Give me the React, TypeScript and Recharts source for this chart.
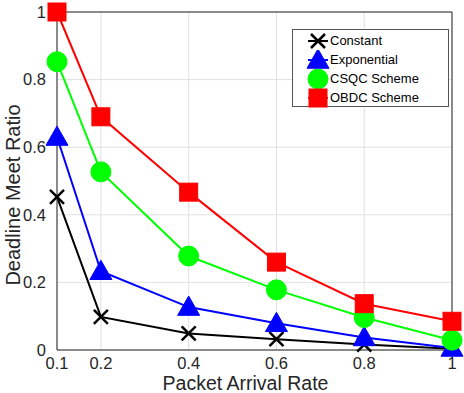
import React from "react";
import {
  LineChart,
  Line,
  XAxis,
  YAxis,
  CartesianGrid,
  ReferenceLine,
} from "recharts";

const rates = [0.1, 0.2, 0.4, 0.6, 0.8, 1];
const constantVals = [0.453, 0.098, 0.049, 0.032, 0.016, 0.004];
const exponentialVals = [0.63, 0.233, 0.127, 0.079, 0.037, 0.006];
const csqcVals = [0.853, 0.527, 0.278, 0.178, 0.096, 0.029];
const obdcVals = [1.0, 0.69, 0.467, 0.26, 0.137, 0.085];
const xTicks = [0.1, 0.2, 0.4, 0.6, 0.8, 1];
const yTicks = [0, 0.2, 0.4, 0.6, 0.8, 1];

const data = rates.map((r, i) => ({
  rate: r,
  constant: constantVals[i],
  exponential: exponentialVals[i],
  csqc: csqcVals[i],
  obdc: obdcVals[i],
}));

const FONT = "'Liberation Sans', Arial, Helvetica, sans-serif";
const AXIS = "#262626";

type Kind = "x" | "tri" | "circle" | "square";

function Marker({ kind, cx, cy, color }: { kind: Kind; cx: number; cy: number; color: string }) {
  if (kind === "x") {
    const s = 7;
    return (
      <g stroke={color} strokeWidth={2.5}>
        <line x1={cx - s} y1={cy - s} x2={cx + s} y2={cy + s} />
        <line x1={cx - s} y1={cy + s} x2={cx + s} y2={cy - s} />
      </g>
    );
  }
  if (kind === "tri") {
    const s = 11;
    return (
      <polygon
        points={`${cx},${cy - s} ${cx - s},${cy + s * 0.75} ${cx + s},${cy + s * 0.75}`}
        fill={color}
        stroke={color}
      />
    );
  }
  if (kind === "circle") {
    return <circle cx={cx} cy={cy} r={10} fill={color} stroke={color} />;
  }
  return <rect x={cx - 9} y={cy - 9} width={18} height={18} fill={color} stroke={color} />;
}

const dotFor = (kind: Kind, color: string) => (props: any) => (
  <Marker key={`${kind}-${props.index}`} kind={kind} cx={props.cx} cy={props.cy} color={color} />
);

const series: { key: string; name: string; color: string; kind: Kind }[] = [
  { key: "constant", name: "Constant", color: "#000000", kind: "x" },
  { key: "exponential", name: "Exponential", color: "#0000ff", kind: "tri" },
  { key: "csqc", name: "CSQC Scheme", color: "#00ff00", kind: "circle" },
  { key: "obdc", name: "OBDC Scheme", color: "#ff0000", kind: "square" },
];

function LegendBox() {
  return (
    <div
      style={{
        position: "absolute",
        left: 292,
        top: 29,
        border: "1px solid #555",
        background: "#fff",
        width: 157,
        height: 78,
        boxSizing: "border-box",
        padding: "1px 0 0 0",
        fontFamily: FONT,
        fontSize: 13,
        color: "#000",
      }}
    >
      {series.map((s) => (
        <div key={s.key} style={{ display: "flex", alignItems: "center", height: 19 }}>
          <svg width={36} height={20} style={{ marginLeft: 1 }}>
            <line x1={14} y1={10} x2={34} y2={10} stroke={s.color} strokeWidth={2} />
            <Marker kind={s.kind} cx={24} cy={10} color={s.color} />
          </svg>
          <span style={{ marginLeft: 0 }}>{s.name}</span>
        </div>
      ))}
    </div>
  );
}

const fmt = (v: number) => (v === 0 ? "0" : v === 1 ? "1" : String(v));

export default function App() {
  return (
    <div style={{ position: "absolute", left: 0, top: 0, width: 464, height: 393, background: "#fff" }}>
      <LineChart
        width={464}
        height={393}
        data={data}
        margin={{ top: 12, right: 12, bottom: 0, left: 0 }}
      >
        <CartesianGrid stroke="#e0e0e0" strokeWidth={1} verticalValues={xTicks} horizontalValues={yTicks} />
        <XAxis
          dataKey="rate"
          type="number"
          domain={[0.1, 1]}
          ticks={xTicks}
          tickFormatter={fmt}
          tickLine={false}
          axisLine={{ stroke: AXIS, strokeWidth: 1 }}
          tick={{ fill: AXIS, fontSize: 16.5, fontFamily: FONT }}
          tickMargin={1}
          height={43}
          label={{
            value: "Packet Arrival Rate",
            position: "insideBottom",
            offset: 3,
            dx: -9,
            style: { fill: AXIS, fontSize: 19.5, fontFamily: FONT },
          }}
        />
        <YAxis
          type="number"
          domain={[0, 1]}
          ticks={yTicks}
          tickFormatter={fmt}
          tickLine={false}
          axisLine={{ stroke: AXIS, strokeWidth: 1 }}
          tick={{ fill: AXIS, fontSize: 16.5, fontFamily: FONT }}
          tickMargin={5}
          width={57}
          label={{
            value: "Deadline Meet Ratio",
            angle: -90,
            position: "insideLeft",
            offset: 13,
            dy: 14,
            style: { fill: AXIS, fontSize: 20, fontFamily: FONT, textAnchor: "middle" },
          }}
        />
        <ReferenceLine y={1} stroke={AXIS} strokeWidth={1} ifOverflow="visible" />
        <ReferenceLine x={1} stroke={AXIS} strokeWidth={1} ifOverflow="visible" />
        {series.map((s) => (
          <Line
            key={s.key}
            dataKey={s.key}
            name={s.name}
            stroke={s.color}
            strokeWidth={2}
            dot={dotFor(s.kind, s.color)}
            activeDot={false}
            isAnimationActive={false}
          />
        ))}
      </LineChart>
      <LegendBox />
    </div>
  );
}
